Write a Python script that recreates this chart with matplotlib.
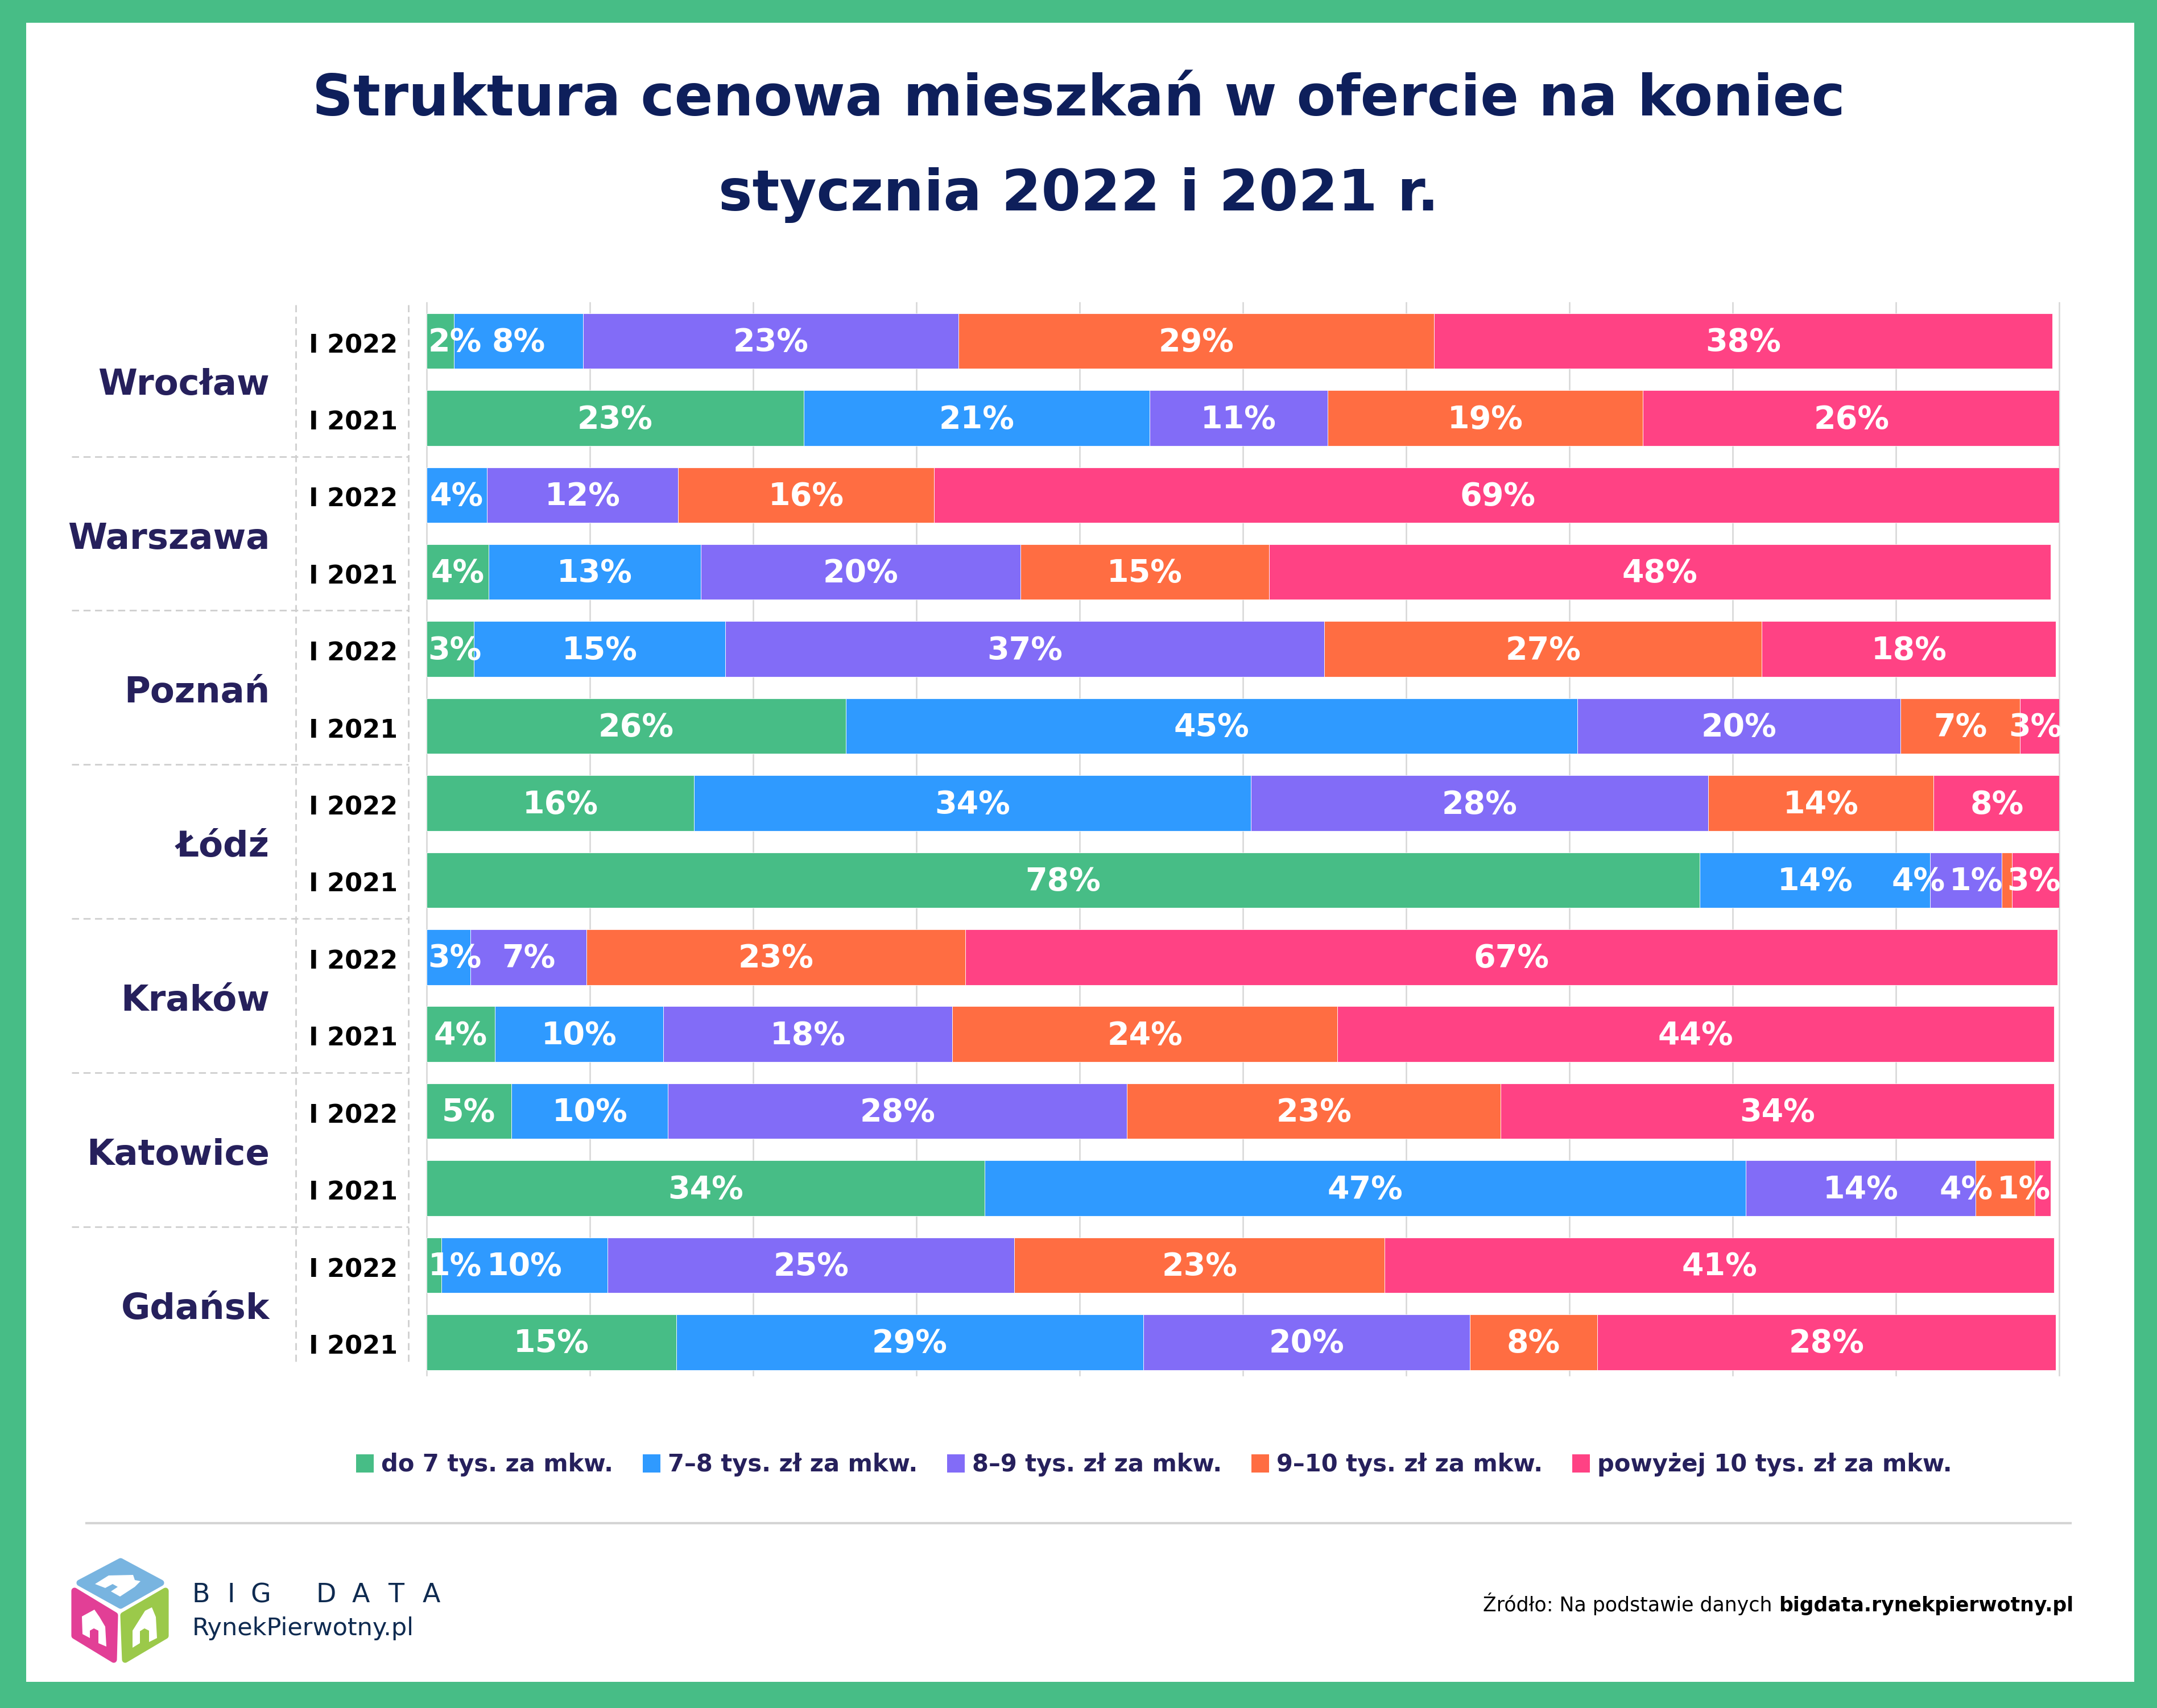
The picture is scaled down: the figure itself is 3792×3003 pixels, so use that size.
import matplotlib
matplotlib.use('Agg')
import matplotlib.pyplot as plt
from matplotlib.patches import Patch, Rectangle, Polygon
from matplotlib.lines import Line2D
import numpy as np

# dane (udzial w %), wiersze od gory
cities = ['Wrocław', 'Warszawa', 'Poznań', 'Łódź', 'Kraków', 'Katowice', 'Gdańsk']
periods = ['I 2022', 'I 2021']
categories = ['do 7 tys. za mkw.', '7–8 tys. zł za mkw.', '8–9 tys. zł za mkw.',
              '9–10 tys. zł za mkw.', 'powyżej 10 tys. zł za mkw.']

do_7 = [1.7, 23.1, 0.0, 3.8, 2.9, 25.7, 16.4, 78.0, 0.0, 4.2, 5.2, 34.2, 0.9, 15.3]
od_7_do_8 = [7.9, 21.2, 3.7, 13.0, 15.4, 44.8, 34.1, 14.1, 2.7, 10.3, 9.6, 46.6, 10.2, 28.6]
od_8_do_9 = [23.0, 10.9, 11.7, 19.6, 36.7, 19.8, 28.0, 4.4, 7.1, 17.7, 28.1, 14.1, 24.9, 20.0]
od_9_do_10 = [29.1, 19.3, 15.7, 15.2, 26.8, 7.3, 13.8, 0.6, 23.2, 23.6, 22.9, 3.6, 22.7, 7.8]
pow_10 = [37.9, 25.6, 69.0, 47.9, 18.0, 2.6, 7.8, 3.0, 66.9, 43.9, 33.9, 1.0, 41.0, 28.1]

series = [do_7, od_7_do_8, od_8_do_9, od_9_do_10, pow_10]
colors = ['#47bd86', '#2f9aff', '#826cf7', '#ff6d42', '#ff4284']

GREEN = '#47bd86'
NAVY = '#0e1f5b'
INK = '#26205c'
W, H = 3792, 3003


def fx(x):
    return x / W


def fy(y):
    return 1 - y / H


fig = plt.figure(figsize=(W / 100, H / 100), dpi=100)
fig.patch.set_facecolor(GREEN)
fig.add_artist(Rectangle((fx(46), fy(2957)), fx(3752 - 46), (2957 - 40) / H,
                         transform=fig.transFigure, facecolor='white',
                         edgecolor='none', zorder=-10))

# title
fig.text(0.5, fy(176), 'Struktura cenowa mieszkań w ofercie na koniec', ha='center',
         va='center', fontsize=72, weight='bold', color=NAVY)
fig.text(0.5, fy(343), 'stycznia 2022 i 2021 r.', ha='center', va='center',
         fontsize=72, weight='bold', color=NAVY)

# main chart
ax = fig.add_axes([0.1977, 0.1948, 0.7569, 0.6281])
ax.set_facecolor('none')
n = len(do_7)
y = np.arange(n)
ax.set_xlim(0, 100)
ax.set_ylim(13.43, -0.5)
for s in ax.spines.values():
    s.set_visible(False)
ax.set_xticks([])
ax.set_yticks([])
for gx in range(0, 101, 10):
    ax.axvline(gx, color='#d6d6d6', lw=1.8, zorder=0, clip_on=False)

left = np.zeros(n)
for vals, col in zip(series, colors):
    ax.barh(y, vals, left=left, height=0.72, color=col, edgecolor='white',
            linewidth=0.6, zorder=2)
    left += np.array(vals)
totals = left.copy()

# value labels, shifted where they would collide
fig.canvas.draw()
renderer = fig.canvas.get_renderer()
ax_w = ax.get_window_extent(renderer).width
gap = 0.25
for i in range(n):
    start = 0.0
    row = []
    for vals in series:
        v = vals[i]
        if v > 0:
            t = ax.text(start + v / 2, i + 0.02, f'{v:.0f}%', ha='center', va='center',
                        color='white', fontsize=40, weight='bold', zorder=3)
            w = t.get_window_extent(renderer).width / ax_w * 100
            row.append([t, start + v / 2, w])
        start += v
    # left clamp
    if row and row[0][1] - row[0][2] / 2 < 0.1:
        row[0][1] = 0.1 + row[0][2] / 2
    limit = totals[i]
    for item in reversed(row):
        t, c, w = item
        if c + w / 2 > limit:
            c = limit - w / 2
        item[1] = c
        limit = c - w / 2 - gap
    for t, c, w in row:
        t.set_x(c)

# left table: cities and periods
ytr = ax.get_yaxis_transform()
for k, city in enumerate(cities):
    ax.text(-0.096, 2 * k + 0.57, city, transform=ytr, ha='right', va='center',
            fontsize=45, weight='bold', color=INK, clip_on=False)
    for j, p in enumerate(periods):
        ax.text(-0.0447, 2 * k + j + 0.06, p, transform=ytr, ha='center', va='center',
                fontsize=32, weight='bold', color='black', clip_on=False)
    if k > 0:
        ax.plot([-0.2174, -0.011], [2 * k - 0.5] * 2, transform=ytr, color='#cfcfcf',
                lw=2, ls=(0, (4.5, 2.8)), clip_on=False)
for xa in (-0.080, -0.011):
    ax.plot([xa, xa], [-0.47, 13.25], transform=ytr, color='#cfcfcf', lw=2,
            ls=(0, (4.5, 2.8)), clip_on=False)

# legend
handles = [Patch(facecolor=c, edgecolor='none') for c in colors]
leg = fig.legend(handles, categories, loc='center', bbox_to_anchor=(0.535, 0.1425),
                 ncol=5, frameon=False, prop={'weight': 'bold', 'size': 30},
                 handlelength=0.75, handleheight=0.8, handletextpad=0.3,
                 columnspacing=1.25)
for t in leg.get_texts():
    t.set_color(INK)

fig.add_artist(Line2D([fx(152), fx(3640)], [fy(2678)] * 2, color='#d4d4d4', lw=3))

# logo
def poly(pts, color, lw=0):
    fig.add_artist(Polygon([(fx(a), fy(b)) for a, b in pts], closed=True,
                           transform=fig.transFigure, facecolor=color,
                           edgecolor=color, lw=lw, joinstyle='round'))


poly([(212, 2745), (283, 2783), (212, 2823), (140, 2783)], '#78b4e0', lw=8)
poly([(131, 2797), (202, 2840), (200, 2918), (131, 2876)], '#e23f96', lw=8)
poly([(217, 2840), (291, 2797), (291, 2876), (220, 2918)], '#9bc94a', lw=8)
poly([(167, 2785), (191, 2770), (234, 2769), (237, 2778), (247, 2780), (237, 2790),
      (211, 2807), (195, 2798), (207, 2790), (198, 2785), (185, 2792)], 'white')
poly([(144, 2842), (166, 2830), (175, 2843), (185, 2860), (187, 2895), (173, 2889),
      (173, 2867), (165, 2863), (158, 2867), (158, 2880), (145, 2873)], 'white')
poly([(233, 2867), (255, 2832), (267, 2826), (274, 2843), (276, 2880), (262, 2887),
      (262, 2867), (254, 2863), (246, 2868), (246, 2889), (233, 2897)], 'white')

for ch, xx in zip('BIGDATA', [338, 399, 440, 555, 619, 682, 743]):
    fig.text(fx(xx), fy(2817), ch, ha='left', va='baseline', fontsize=33,
             color='#0e2a50')
fig.text(fx(338), fy(2875), 'RynekPierwotny.pl', ha='left', va='baseline',
         fontsize=31, color='#0e2a50')

# source
src_b = fig.text(fx(3645), fy(2833), 'bigdata.rynekpierwotny.pl', ha='right',
                 va='baseline', fontsize=25, weight='bold', color='black')
bb = src_b.get_window_extent(renderer)
fig.text(bb.x0 / fig.bbox.width, fy(2833), 'Źródło: Na podstawie danych ', ha='right',
         va='baseline', fontsize=25, color='black')

fig.savefig('out.png', dpi=100, facecolor=fig.get_facecolor())
